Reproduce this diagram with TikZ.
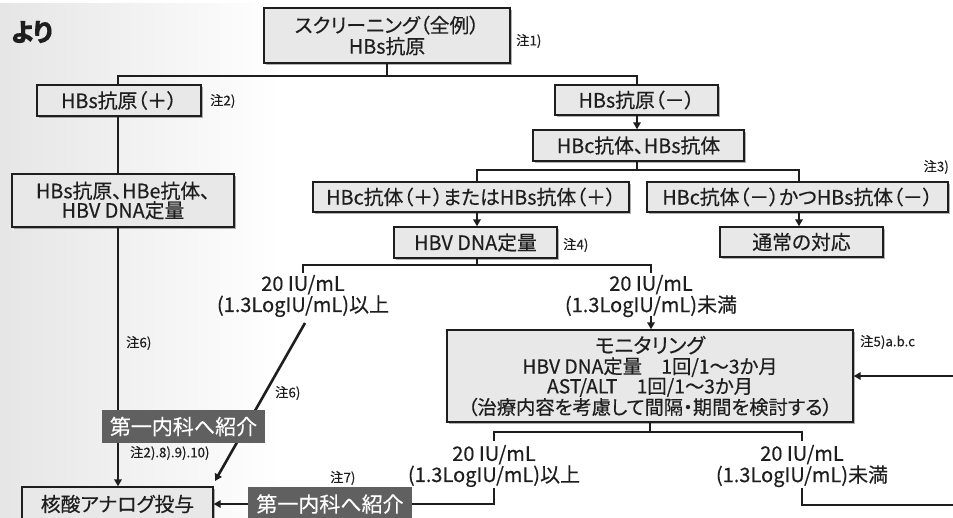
\documentclass[tikz,border=0pt]{standalone}
\usepackage{fontspec}
\setmainfont[RawFeature=+palt, FakeBold=0.35]{Noto Sans CJK JP}
\usetikzlibrary{arrows.meta,shadows}
\definecolor{boxgray}{RGB}{232,232,232}
\definecolor{darkbox}{RGB}{96,96,96}
\definecolor{ink}{RGB}{30,30,30}
\begin{document}
\begin{tikzpicture}[x=1pt,y=-1pt,
  every node/.style={text=ink},
  box/.style={draw=ink, line width=1.4pt, fill=boxgray, inner sep=0pt, align=center,
    font=\fontsize{19.8}{19.5}\selectfont,
    drop shadow={shadow xshift=1.5pt, shadow yshift=-1.5pt, opacity=0.3, fill=black}},
  dark/.style={fill=darkbox, text=white, inner sep=0pt, font=\fontsize{21}{22}\selectfont},
  conn/.style={draw=ink, line width=2.6pt},
  arr/.style={conn, -{Triangle[length=7pt,width=7.5pt]}},
  note/.style={font=\fontsize{13.3}{14}\selectfont, inner sep=0pt, anchor=west},
  lab/.style={font=\fontsize{20}{18}\selectfont, align=center, inner sep=0pt}]
\useasboundingbox (0,0) rectangle (953,517);
\clip (0,0) rectangle (953,517);
% background
\shade[left color=black!10, right color=white] (0,3) rectangle (280,517);
\node[anchor=east, inner sep=0pt, font=\fontsize{25}{25}\selectfont\bfseries] (yori) at (53,32) {より};
% boxes
\node[box, minimum width=246pt, minimum height=55pt, font=\fontsize{19.8}{21}\selectfont] (scr) at (387,35.5) {スクリーニング（全例）\\HBs抗原};
\node[box, minimum width=164pt, minimum height=31pt] (pos) at (119,100.5) {HBs抗原（＋）};
\node[box, minimum width=222pt, minimum height=53pt] (tri) at (123,200.5) {HBs抗原、HBe抗体、\\HBV DNA定量};
\node[box, minimum width=163pt, minimum height=30pt] (neg) at (636.5,100) {HBs抗原（－）};
\node[box, minimum width=211pt, minimum height=31pt] (hbc) at (638.5,145.5) {HBc抗体、HBs抗体};
\node[box, minimum width=316pt, minimum height=30pt] (cpos) at (471,197) {HBc抗体（＋）またはHBs抗体（＋）};
\node[box, minimum width=301pt, minimum height=30pt] (cneg) at (797.5,197) {HBc抗体（－）かつHBs抗体（－）};
\node[box, minimum width=163pt, minimum height=30pt] (norm) at (801.5,242) {通常の対応};
\node[box, minimum width=163pt, minimum height=31pt] (dna) at (475.5,242.5) {HBV DNA定量};
\node[box, minimum width=406pt, minimum height=92pt, font=\fontsize{19.3}{18.5}\selectfont] (mon) at (650,376)
  {{\fontsize{20.5}{20}\selectfont モニタリング}\\[2pt]HBV DNA定量　1回/1～3か月\\AST/ALT　1回/1～3か月\\（治療内容を考慮して間隔・期間を検討する）};
\node[box, minimum width=191pt, minimum height=34pt] (nuc) at (117.5,504) {核酸アナログ投与};
\node[dark, minimum width=164pt, minimum height=34pt] (ref2) at (330,504) {第一内科へ紹介};
% labels
\node[lab] (L1) at (303,296) {20 IU/mL\\(1.3LogIU/mL)以上};
\node[lab] (R1) at (651,296) {20 IU/mL\\(1.3LogIU/mL)未満};
\node[lab] (L2) at (494,466) {20 IU/mL\\(1.3LogIU/mL)以上};
\node[lab] (R2) at (802,466) {20 IU/mL\\(1.3LogIU/mL)未満};
% notes
\node[note] (n1) at (516,41) {注1)};
\node[note] (n2) at (210,101) {注2)};
\node[note, anchor=east] (n3) at (949,167) {注3)};
\node[note] (n4) at (563,245) {注4)};
\node[note] (n5) at (860,342) {注5)a.b.c};
\node[note] (n6a) at (126,343) {注6)};
\node[note] (n6b) at (275,393) {注6)};
\node[note] (n8) at (130,453) {注2).8).9).10)};
\node[note] (n7) at (330,478) {注7)};
% coordinates
\coordinate (j1) at (387,76);
\coordinate (jL) at (118,76);
\coordinate (jR) at (637,76);
\coordinate (j2) at (637,170);
\coordinate (j2L) at (477,170);
\coordinate (j2R) at (799,170);
\coordinate (j3) at (477,265);
\coordinate (j3L) at (303,265);
\coordinate (j3R) at (651,265);
\coordinate (d3L) at (303,273);
\coordinate (d3R) at (651,273);
\coordinate (a1) at (651,316);
\coordinate (g1) at (305,323);
\coordinate (g2) at (215,481);
\coordinate (j4) at (650,432);
\coordinate (j4L) at (494,432);
\coordinate (j4R) at (802,432);
\coordinate (d4L) at (494,441);
\coordinate (d4R) at (802,441);
\coordinate (e4L) at (494,488);
\coordinate (e4R) at (802,488);
\coordinate (offB) at (960,505);
\coordinate (offR) at (960,376);
% connectors
\draw[conn] (scr.south) -- (j1);
\draw[conn] (jL |- pos.north) -- (jL) -- (jR) -- (jR |- neg.north);
\draw[arr] (jR |- neg.south) -- (jR |- hbc.north);
\draw[conn] (jL |- pos.south) -- (jL |- tri.north);
\draw[arr] (jL |- tri.south) -- (jL |- nuc.north);
\draw[conn] (j2 |- hbc.south) -- (j2);
\draw[conn] (j2L |- cpos.north) -- (j2L) -- (j2R) -- (j2R |- cneg.north);
\draw[arr] (j2L |- cpos.south) -- (j2L |- dna.north);
\draw[arr] (j2R |- cneg.south) -- (j2R |- norm.north);
\draw[conn] (j3 |- dna.south) -- (j3);
\draw[conn] (d3L) -- (j3L) -- (j3R) -- (d3R);
\draw[arr] (a1) -- (a1 |- mon.north);
\draw[arr] (g1) -- (g2);
\draw[conn] (mon.south) -- (j4);
\draw[conn] (d4L) -- (j4L) -- (j4R) -- (d4R);
\draw[conn] (e4L) -- (e4L |- ref2.east) -- (ref2.east);
\draw[arr] (ref2.west) -- (nuc.east);
\draw[conn] (e4R) -- (e4R |- offB) -- (offB);
\draw[arr] (offR) -- (mon.east);
% upper referral box on top of the lines
\node[dark, minimum width=163pt, minimum height=33pt] (ref1) at (183.5,426.5) {第一内科へ紹介};
\end{tikzpicture}
\end{document}
